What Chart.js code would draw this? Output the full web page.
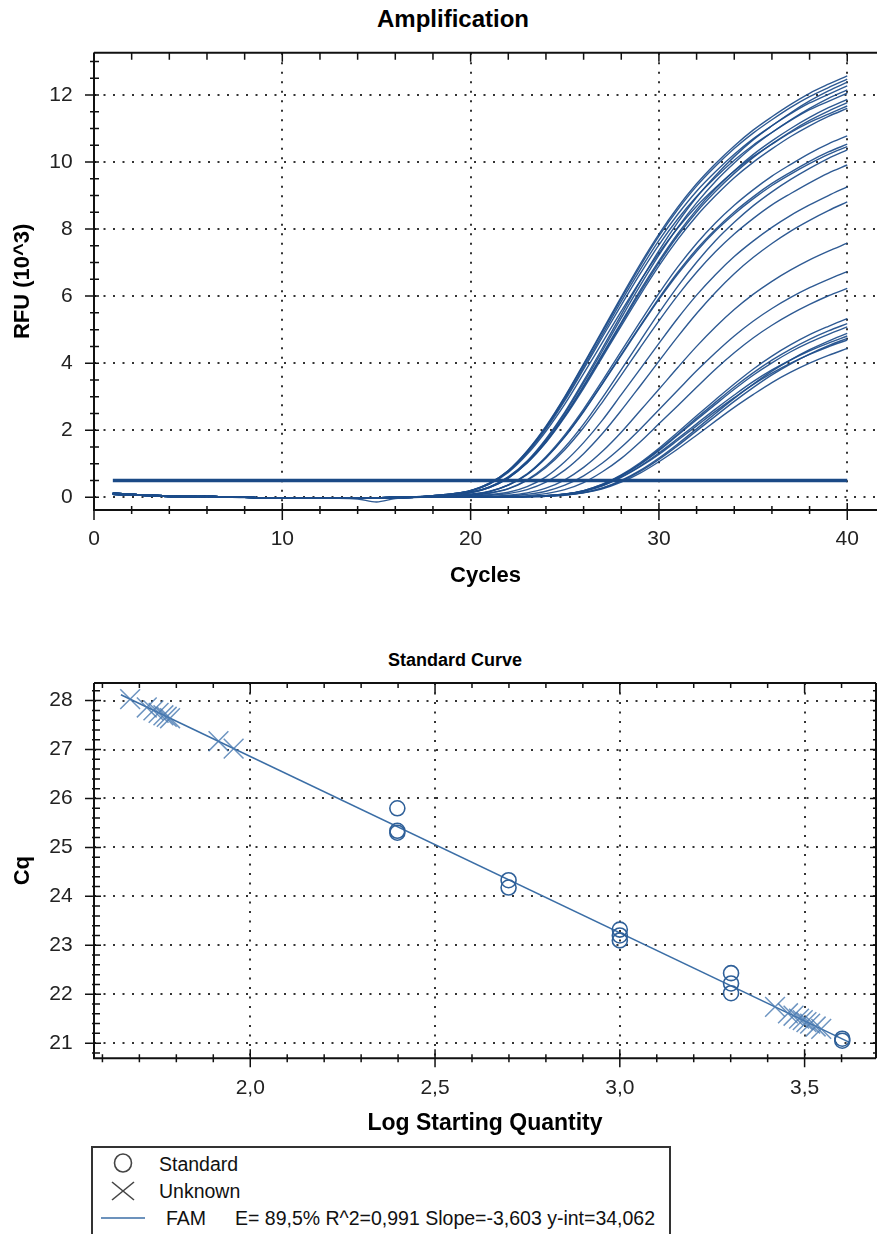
<!DOCTYPE html>
<html>
<head>
<meta charset="utf-8">
<title>Amplification / Standard Curve</title>
<script src="https://cdn.jsdelivr.net/npm/chart.js@4.4.1/dist/chart.umd.min.js"></script>
<style>
  body { margin: 0; width: 877px; height: 1234px; overflow: hidden; position: relative; background: #fff;
         font-family: 'Liberation Sans', Arial, sans-serif; color: #111; }
  canvas { position: absolute; left: 0; }
  #amp { top: 0; }
  #std { top: 620px; }
  .ttl { position: absolute; font-weight: bold; white-space: nowrap; transform: translateX(-50%); color: #000; }
  #legendBox { position: absolute; left: 91px; top: 1146px; width: 580px; height: 120px; border: 2px solid #333; box-sizing: border-box; }
  .lg { position: absolute; font-size: 19.5px; line-height: 22px; white-space: nowrap; color: #111; }
  #legendMarks { position: absolute; left: 91px; top: 1146px; }
</style>
</head>
<body>
<div class="ttl" style="left:453px; top:5px; font-size:24px; line-height:28px;">Amplification</div>
<canvas id="amp" width="877" height="600"></canvas>

<div class="ttl" style="left:455px; top:649px; font-size:18px; line-height:22px;">Standard Curve</div>
<canvas id="std" width="877" height="525"></canvas>

<div id="legendBox"></div>
<svg id="legendMarks" width="110" height="88">
  <ellipse cx="32" cy="17" rx="8.5" ry="9" fill="none" stroke="#444" stroke-width="1.6"/>
  <line x1="21" y1="36" x2="43" y2="54" stroke="#444" stroke-width="1.6"/>
  <line x1="43" y1="36" x2="21" y2="54" stroke="#444" stroke-width="1.6"/>
  <line x1="10" y1="72" x2="54" y2="72" stroke="#3b6ea6" stroke-width="1.6"/>
</svg>
<div class="lg" style="left:159px; top:1153px;">Standard</div>
<div class="lg" style="left:159px; top:1180px;">Unknown</div>
<div class="lg" style="left:166px; top:1207px;">FAM</div>
<div class="lg" style="left:235px; top:1207px;">E= 89,5% R^2=0,991 Slope=-3,603 y-int=34,062</div>

<script>
// ---------- amplification data (RFU x 10^3) ----------
const cycles = Array.from({length: 40}, (_, i) => i + 1);
const threshold = 0.5;

// baseline for cycles 1..17
const baseA = [0.12, 0.09, 0.06, 0.04, 0.03, 0.02, 0.01, 0.0, -0.01, -0.01, -0.02, -0.02, -0.02, -0.01, -0.01, 0.0, 0.01];
const baseB = [0.09, 0.07, 0.04, 0.02, 0.01, 0.03, 0.01, 0.0, -0.02, -0.02, -0.01, -0.03, -0.02, -0.02, -0.03, -0.01, 0.0];
const baseDip = [0.1, 0.07, 0.05, 0.03, 0.02, 0.01, 0.0, -0.01, -0.01, -0.02, -0.02, -0.03, -0.03, -0.05, -0.14, -0.04, -0.01];

// cycles 18..40, earliest wells (Cq ~21)
const rfuHigh = [
  [.05,.1,.2,.42,.8,1.38,2.12,3.0,3.98,4.98,5.98,6.95,7.85,8.65,9.35,9.95,10.48,10.95,11.35,11.72,12.05,12.32,12.57],
  [.05,.1,.2,.42,.79,1.37,2.1,2.98,3.95,4.94,5.93,6.89,7.79,8.58,9.28,9.87,10.4,10.86,11.26,11.63,11.95,12.22,12.47],
  [.03,.07,.15,.31,.61,1.08,1.74,2.54,3.47,4.45,5.45,6.43,7.36,8.2,8.95,9.59,10.16,10.66,11.08,11.47,11.82,12.12,12.38],
  [.05,.1,.2,.41,.78,1.35,2.07,2.93,3.88,4.86,5.84,6.78,7.66,8.44,9.13,9.71,10.23,10.69,11.08,11.44,11.76,12.02,12.27],
  [.03,.07,.15,.3,.6,1.06,1.71,2.5,3.41,4.37,5.35,6.31,7.22,8.05,8.78,9.42,9.97,10.46,10.88,11.26,11.6,11.9,12.15],
  [.05,.1,.19,.4,.77,1.32,2.03,2.88,3.82,4.78,5.73,6.66,7.53,8.3,8.97,9.54,10.05,10.5,10.88,11.24,11.56,11.81,12.05],
  [.03,.07,.14,.3,.58,1.04,1.67,2.44,3.33,4.27,5.22,6.17,7.05,7.86,8.58,9.2,9.74,10.22,10.63,11.0,11.33,11.62,11.87],
  [.03,.07,.14,.29,.58,1.03,1.65,2.42,3.3,4.23,5.18,6.11,6.99,7.8,8.51,9.12,9.66,10.13,10.54,10.91,11.24,11.52,11.77],
  [.05,.09,.19,.39,.74,1.28,1.97,2.78,3.69,4.62,5.55,6.45,7.28,8.03,8.68,9.23,9.73,10.16,10.53,10.88,11.18,11.43,11.67],
  [.03,.07,.14,.29,.57,1.02,1.63,2.39,3.25,4.18,5.11,6.03,6.9,7.69,8.39,8.99,9.53,9.99,10.39,10.76,11.08,11.36,11.6]
];
// cycles 18..40, middle wells (Cq ~22-24)
const rfuMid = [
  [.02,.04,.09,.18,.37,.7,1.21,1.86,2.63,3.48,4.36,5.23,6.08,6.87,7.57,8.18,8.71,9.17,9.58,9.93,10.26,10.54,10.78],
  [.02,.04,.09,.17,.36,.68,1.18,1.81,2.57,3.4,4.26,5.11,5.94,6.71,7.4,7.99,8.51,8.96,9.36,9.7,10.02,10.3,10.53],
  [.02,.04,.08,.17,.36,.68,1.17,1.8,2.55,3.38,4.23,5.08,5.9,6.66,7.34,7.94,8.45,8.9,9.3,9.64,9.95,10.23,10.46],
  [.01,.03,.06,.13,.26,.52,.93,1.49,2.18,2.97,3.81,4.66,5.5,6.29,7.01,7.65,8.2,8.69,9.11,9.48,9.81,10.11,10.36],
  [.01,.03,.06,.12,.25,.5,.89,1.42,2.08,2.84,3.64,4.46,5.26,6.02,6.71,7.32,7.85,8.31,8.72,9.06,9.38,9.67,9.91],
  [0,.02,.04,.08,.15,.32,.61,1.06,1.63,2.3,3.06,3.82,4.59,5.34,6.03,6.64,7.18,7.64,8.05,8.41,8.72,9.0,9.26],
  [0,.01,.03,.06,.11,.23,.45,.81,1.3,1.9,2.59,3.32,4.06,4.79,5.48,6.11,6.67,7.15,7.57,7.94,8.26,8.55,8.81]
];
// cycles 18..40, late wells (Cq ~25-28)
const rfuLow = [
  [0,0,.01,.03,.06,.13,.27,.52,.89,1.37,1.94,2.58,3.22,3.87,4.5,5.08,5.6,6.05,6.44,6.78,7.08,7.34,7.58],
  [0,0,.01,.02,.04,.09,.18,.36,.64,1.02,1.49,2.03,2.61,3.19,3.77,4.31,4.81,5.25,5.63,5.96,6.25,6.5,6.73],
  [0,0,0,.01,.03,.05,.11,.23,.44,.76,1.16,1.65,2.19,2.73,3.28,3.82,4.31,4.75,5.13,5.46,5.75,6.01,6.23],
  [0,0,0,0,.01,.02,.05,.1,.2,.39,.67,1.03,1.46,1.94,2.43,2.91,3.38,3.82,4.21,4.55,4.85,5.1,5.33],
  [0,0,0,0,.01,.02,.05,.09,.2,.38,.65,1.0,1.42,1.88,2.36,2.83,3.29,3.71,4.09,4.42,4.71,4.96,5.18],
  [0,0,0,0,.01,.02,.05,.09,.19,.37,.64,.98,1.39,1.85,2.31,2.77,3.22,3.64,4.01,4.34,4.62,4.86,5.08],
  [0,0,0,0,0,.02,.03,.07,.14,.28,.5,.8,1.17,1.59,2.04,2.5,2.95,3.37,3.76,4.1,4.4,4.66,4.89],
  [0,0,0,0,.01,.02,.04,.09,.18,.35,.61,.93,1.32,1.75,2.19,2.63,3.05,3.45,3.8,4.1,4.37,4.6,4.81],
  [0,0,0,0,0,.02,.03,.07,.14,.27,.48,.77,1.13,1.54,1.98,2.42,2.86,3.27,3.65,3.98,4.27,4.52,4.74],
  [0,0,0,0,.01,.02,.04,.09,.18,.34,.59,.91,1.28,1.7,2.13,2.56,2.97,3.36,3.7,4.0,4.26,4.49,4.69],
  [0,0,0,0,0,.01,.03,.06,.13,.25,.45,.72,1.06,1.44,1.85,2.27,2.68,3.06,3.42,3.73,4.0,4.23,4.44]
];

const ampXTicks = [0, 10, 20, 30, 40];
const ampYTicks = [0, 2, 4, 6, 8, 10, 12];

// ---------- standard curve data ----------
const stdLogQty = [2.398, 2.398, 2.398, 2.699, 2.699, 3.0, 3.0, 3.0, 3.301, 3.301, 3.301, 3.602, 3.602];
const stdCq     = [25.80, 25.34, 25.30, 24.33, 24.18, 23.32, 23.20, 23.10, 22.43, 22.22, 22.02, 21.09, 21.05];
const unkLogQty = [1.675, 1.720, 1.738, 1.752, 1.765, 1.774, 1.783, 1.914, 1.955, 3.420, 3.455, 3.470, 3.485, 3.495, 3.505, 3.515, 3.530, 3.545];
const unkCq     = [28.03, 27.86, 27.80, 27.75, 27.70, 27.67, 27.64, 27.17, 27.02, 21.74, 21.61, 21.56, 21.50, 21.47, 21.43, 21.40, 21.34, 21.29];
const fitLogQty = [1.65, 3.62];
const fitCq     = [28.12, 21.02];
const stdXTicks = [2.0, 2.5, 3.0, 3.5];
const stdYTicks = [21, 22, 23, 24, 25, 26, 27, 28];

Chart.defaults.font.family = "'Liberation Sans', Arial, sans-serif";
Chart.defaults.color = '#222';

// minor/major ticks and the frame round the plot
const tickValues = (scale, step) => {
  const out = [];
  for (let i = Math.ceil(scale.min / step - 1e-9); i * step <= scale.max + 1e-9; i++) out.push(i * step);
  return out;
};
const isMajor = (v, major) => Math.abs(v / major - Math.round(v / major)) < 1e-6;

const frameTicks = {
  id: 'frameTicks',
  afterDatasetsDraw(chart, args, o) {
    const {ctx, chartArea: a} = chart;
    const x = chart.scales.x, y = chart.scales.y;
    ctx.save();
    ctx.strokeStyle = '#111';
    ctx.lineWidth = 2;
    ctx.beginPath();
    ctx.moveTo(a.left, a.top); ctx.lineTo(a.right, a.top);
    ctx.moveTo(a.left, a.top); ctx.lineTo(a.left, a.bottom); ctx.lineTo(a.right, a.bottom);
    if (o.right) { ctx.moveTo(a.right, a.top); ctx.lineTo(a.right, a.bottom); }
    ctx.stroke();
    ctx.lineWidth = 1.5;
    ctx.beginPath();
    tickValues(x, o.xStep).forEach(v => {
      const px = x.getPixelForValue(v);
      const maj = isMajor(v, o.xMajor);
      const b = maj ? o.bottomMajor : o.bottomMinor;
      ctx.moveTo(px, a.bottom - b[1]); ctx.lineTo(px, a.bottom + b[0]);
      ctx.moveTo(px, a.top); ctx.lineTo(px, a.top + (maj ? o.topMajor : o.topMinor));
    });
    tickValues(y, o.yStep).forEach(v => {
      const py = y.getPixelForValue(v);
      const maj = isMajor(v, o.yMajor);
      const l = maj ? o.leftMajor : o.leftMinor;
      ctx.moveTo(a.left - l[0], py); ctx.lineTo(a.left + l[1], py);
      if (o.right) {
        ctx.moveTo(a.right, py); ctx.lineTo(a.right - (maj ? o.rightMajor : o.rightMinor), py);
      }
    });
    ctx.stroke();
    ctx.restore();
  }
};

const gridStyle = { color: '#333', lineWidth: 2, drawTicks: false };
const gridBorder = { display: false, dash: [2, 7.5] };

// ---------- amplification chart ----------
const curveTails = [...rfuHigh, ...rfuMid, ...rfuLow];
const curveSets = curveTails.map((tail, i) => {
  const base = i === 13 ? baseDip : (i % 2 ? baseB : baseA);
  const vals = base.concat(tail);
  return {
    data: cycles.map((c, j) => ({x: c, y: vals[j]})),
    borderColor: 'rgba(28, 76, 138, 0.92)',
    borderWidth: 1.4,
    pointRadius: 0,
    cubicInterpolationMode: 'monotone',
    order: 1
  };
});

new Chart(document.getElementById('amp'), {
  type: 'line',
  data: {
    datasets: [{
      data: [{x: cycles[0], y: threshold}, {x: cycles[cycles.length - 1], y: threshold}],
      borderColor: '#1b4a86',
      borderWidth: 3.5,
      pointRadius: 0,
      order: 0
    }, ...curveSets]
  },
  options: {
    responsive: false,
    animation: false,
    devicePixelRatio: 1,
    layout: { autoPadding: false, padding: { top: 52.7, left: 0, right: 0, bottom: 0 } },
    plugins: {
      legend: { display: false },
      tooltip: { enabled: false },
      frameTicks: {
        xStep: 2, xMajor: 10, yStep: 0.5, yMajor: 2,
        leftMajor: [9, 5], leftMinor: [4, 5],
        bottomMajor: [10, 7], bottomMinor: [4, 4],
        topMajor: 9, topMinor: 7, right: false
      }
    },
    scales: {
      x: {
        type: 'linear', min: 0, max: 41.58,
        afterBuildTicks: s => { s.ticks = ampXTicks.map(v => ({value: v})); },
        afterFit: s => { s.height = 90; },
        grid: gridStyle, border: gridBorder,
        ticks: { padding: 16.4, font: { size: 21 }, color: '#222' },
        title: { display: true, text: 'Cycles', color: '#000', font: { size: 22, weight: 'bold' }, padding: { top: 0, bottom: 10.8 } }
      },
      y: {
        type: 'linear', min: -0.38, max: 13.26,
        afterBuildTicks: s => { s.ticks = ampYTicks.map(v => ({value: v})); },
        afterFit: s => { s.width = 94; },
        grid: gridStyle, border: gridBorder,
        ticks: { padding: 21.3, font: { size: 21 }, color: '#222' },
        title: { display: true, text: 'RFU (10^3)', color: '#000', font: { size: 22, weight: 'bold' }, padding: { top: 10, bottom: 0 } }
      }
    }
  },
  plugins: [frameTicks]
});

// ---------- standard curve chart ----------
new Chart(document.getElementById('std'), {
  type: 'scatter',
  data: {
    datasets: [{
      label: 'FAM',
      data: fitLogQty.map((v, i) => ({x: v, y: fitCq[i]})),
      showLine: true,
      borderColor: '#3b6ea6',
      borderWidth: 1.6,
      pointRadius: 0,
      order: 2
    }, {
      label: 'Standard',
      data: stdLogQty.map((v, i) => ({x: v, y: stdCq[i]})),
      pointStyle: 'circle',
      pointRadius: 7.5,
      borderColor: '#2f6099',
      backgroundColor: 'rgba(0,0,0,0)',
      borderWidth: 1.6,
      order: 1
    }, {
      label: 'Unknown',
      data: unkLogQty.map((v, i) => ({x: v, y: unkCq[i]})),
      pointStyle: 'crossRot',
      pointRadius: 14,
      borderColor: 'rgba(74, 122, 178, 0.8)',
      borderWidth: 1.5,
      order: 0
    }]
  },
  options: {
    responsive: false,
    animation: false,
    devicePixelRatio: 1,
    layout: { autoPadding: false, padding: { top: 63, left: 0, right: 1, bottom: 0 } },
    plugins: {
      legend: { display: false },
      tooltip: { enabled: false },
      frameTicks: {
        xStep: 0.1, xMajor: 0.5, yStep: 0.2, yMajor: 1,
        leftMajor: [9, 7], leftMinor: [2, 6],
        bottomMajor: [9, 9], bottomMinor: [4, 4],
        topMajor: 10, topMinor: 5,
        right: true, rightMajor: 6, rightMinor: 3
      }
    },
    scales: {
      x: {
        type: 'linear', min: 1.5772, max: 3.6932,
        afterBuildTicks: s => { s.ticks = stdXTicks.map(v => ({value: v})); },
        afterFit: s => { s.height = 86.7; },
        grid: gridStyle, border: gridBorder,
        ticks: { padding: 17.1, font: { size: 21 }, color: '#222', callback: v => v.toFixed(1).replace('.', ',') },
        title: { display: true, text: 'Log Starting Quantity', color: '#000', font: { size: 23, weight: 'bold' }, padding: { top: 0, bottom: 7.2 } }
      },
      y: {
        type: 'linear', min: 20.69, max: 28.36,
        afterBuildTicks: s => { s.ticks = stdYTicks.map(v => ({value: v})); },
        afterFit: s => { s.width = 94; },
        grid: gridStyle, border: gridBorder,
        ticks: { padding: 21.3, font: { size: 21 }, color: '#222' },
        title: { display: true, text: 'Cq', color: '#000', font: { size: 22, weight: 'bold' }, padding: { top: 10, bottom: 0 } }
      }
    }
  },
  plugins: [frameTicks]
});
</script>
</body>
</html>
